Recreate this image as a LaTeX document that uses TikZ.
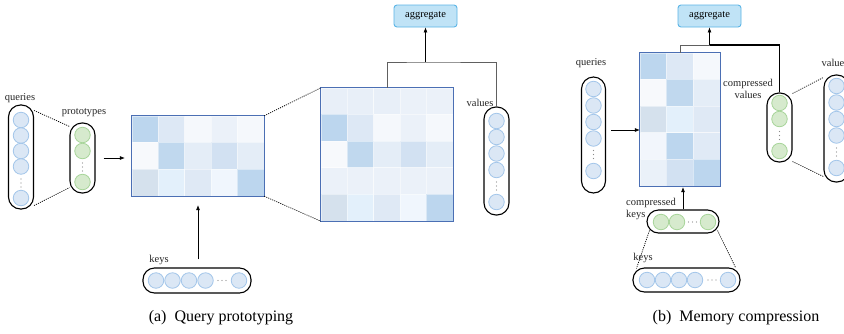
\documentclass[tikz,border=0pt]{standalone}
\usepackage{fontspec}
\setmainfont{Liberation Serif}
\usetikzlibrary{arrows.meta,calc}
\definecolor{cfill}{HTML}{DBE7F5}
\definecolor{cdraw}{HTML}{A3C6EA}
\definecolor{gfill}{HTML}{D6EACD}
\definecolor{gdraw}{HTML}{A8D59A}
\definecolor{aggfill}{HTML}{C0E3F6}
\definecolor{aggdraw}{HTML}{5BB5E6}
\definecolor{mborder}{HTML}{4B6FB4}
\definecolor{mright}{HTML}{8FA8D0}
\definecolor{lgray}{HTML}{606060}
\definecolor{dotc}{HTML}{8A8A8A}
\definecolor{cA}{HTML}{BCD6EE}
\definecolor{cB}{HTML}{DDE8F5}
\definecolor{cC}{HTML}{F5F8FC}
\definecolor{cD}{HTML}{EBF1F9}
\definecolor{cE}{HTML}{F7F9FC}
\definecolor{cF}{HTML}{C0D8EE}
\definecolor{cG}{HTML}{E4EDF7}
\definecolor{cH}{HTML}{D2E1F2}
\definecolor{cI}{HTML}{D5E1ED}
\definecolor{cJ}{HTML}{E3F0FB}
\definecolor{cK}{HTML}{DFE9F5}
\definecolor{cL}{HTML}{F0F6FD}
\definecolor{cM}{HTML}{E8EFF8}
\definecolor{cN}{HTML}{F2F6FC}
\definecolor{cO}{HTML}{E0EAF6}
\definecolor{cP}{HTML}{EAF1F9}
\newcommand\mycells[4]{%
  \foreach \rw [count=\r from 0] in {#4} {
    \foreach \cc [count=\k from 0] in \rw {
      \path[fill=\cc, draw=white, draw opacity=0.45, line width=0.4]
        ($(#1.north west)+(\k*#2,\r*#3)$) rectangle ++(#2,#3);
    }
  }
}
\tikzset{
  pill/.style={draw=black, line width=1.1pt, rounded corners=12pt, inner sep=0pt, minimum width=25pt},
  hpill/.style={draw=black, line width=1.1pt, rounded corners=11.5pt, inner sep=0pt, minimum height=24pt},
  bc/.style={circle, draw=cdraw, fill=cfill, line width=0.8pt, minimum size=15.5pt, inner sep=0pt},
  gc/.style={circle, draw=gdraw, fill=gfill, line width=0.8pt, minimum size=15.5pt, inner sep=0pt},
  lbl/.style={font=\fontsize{10.5}{12}\selectfont, inner sep=0pt, text=black!85},
  captext/.style={font=\fontsize{16}{18}\selectfont, inner sep=0pt},
  agg/.style={draw=aggdraw, fill=aggfill, line width=0.9pt, rounded corners=3pt, minimum width=63pt, minimum height=22pt, inner sep=0pt, font=\fontsize{10.5}{12}\selectfont},
  mat/.style={draw=none, inner sep=0pt},
  mframe/.style={draw=mborder, line width=0.9pt},
  redge/.style={draw=mright, line width=1.4pt},
  dotl/.style={draw=black, line width=0.7pt, dash pattern=on 1.1pt off 1.1pt},
  arr/.style={draw=black, line width=0.6pt, -{Latex[length=5pt,width=4pt]}},
  gline/.style={draw=lgray, line width=0.8pt},
  bline/.style={draw=black, line width=1.2pt},
}
\begin{document}
\begin{tikzpicture}[x=1pt,y=-1pt]
\useasboundingbox (0,0) rectangle (844,333);
\fill[white] (0,0) rectangle (844,333);

% ================= (a) =================
% queries
\node[pill, minimum height=104pt] (q) at (21,157) {};
\foreach \y [count=\i] in {120,135.5,151,166.5,198} \node[bc] (q\i) at (21,\y) {};
\foreach \d in {-4,0,4} \fill[dotc] (21,183+\d) circle (0.6);
\node[lbl] (ql) at (20,98) {queries};
% prototypes
\node[pill, minimum height=70pt] (p) at (82.5,158) {};
\foreach \y [count=\i] in {135,151,182} \node[gc] (p\i) at (82.5,\y) {};
\foreach \d in {-4,0,4} \fill[dotc] (82.5,167+\d) circle (0.6);
\node[lbl] (pl) at (84,113) {prototypes};
\draw[dotl] ([yshift=-6pt]q.north east) -- ([yshift=-4pt]p.north west);
\draw[dotl] ([yshift=4pt]q.south east) -- ([yshift=6pt]p.south west);

% matrix 1
\node[mat, minimum width=132pt, minimum height=80pt] (m1) at (198,156) {};
\mycells{m1}{26.4}{26.667}{{cA,cB,cC,cD,cC},{cE,cF,cG,cH,cG},{cI,cJ,cK,cL,cA}}
\draw[redge] ([xshift=0.3pt]m1.north east) -- ([xshift=0.3pt]m1.south east);
\draw[mframe] (m1.north west) rectangle (m1.south east);
\draw[arr] ([xshift=8pt]p.east) -- ([xshift=-7pt]p.east -| m1.west);

% keys
\node[hpill, minimum width=108pt, minimum height=25pt] (k) at (197,280.5) {};
\foreach \x [count=\i] in {156,172.5,189,205.5,239} \node[bc] (k\i) at (\x,280.5) {};
\foreach \d in {-4,0,4} \fill[dotc] (222+\d,280.5) circle (0.6);
\node[lbl] (kl) at (159,260) {keys};
\draw[arr] ([yshift=8pt]m1.south |- k.north) -- ([yshift=-9pt]m1.south);

% matrix 2
\node[mat, minimum width=132pt, minimum height=133pt] (m2) at (387,154.5) {};
\mycells{m2}{26.4}{26.6}{{cM,cM,cM,cD,cD},{cA,cB,cC,cD,cC},{cE,cF,cG,cH,cG},{cD,cD,cD,cD,cD},{cI,cJ,cK,cL,cA}}
\draw[redge] ([xshift=0.3pt]m2.north east) -- ([xshift=0.3pt]m2.south east);
\draw[mframe] (m2.north west) rectangle (m2.south east);
\draw[dotl] (m1.north east) -- (m2.north west);
\draw[dotl] (m1.south east) -- (m2.south west);

% values
\node[pill, minimum height=108pt] (v) at (496.5,161) {};
\foreach \y [count=\i] in {121,137,153.5,170,202} \node[bc] (v\i) at (496.5,\y) {};
\foreach \d in {-4,0,4} \fill[dotc] (496.5,186+\d) circle (0.6);
\node[lbl] (vl) at (480,103) {values};

% aggregate
\node[agg] (ag1) at (425.5,16) {aggregate};
\coordinate (j1) at (425.5,62);
\draw[gline] (m2.north) |- (j1) -| (v.north);
\draw[arr] (j1) -- (ag1.south);

% ================= (b) =================
\node[agg] (ag2) at (709.5,16) {aggregate};
\node[mat, minimum width=80pt, minimum height=133pt] (mb) at (680,119.5) {};
\mycells{mb}{26.667}{26.6}{{cA,cB,cC},{cE,cF,cG},{cI,cJ,cK},{cN,cA,cO},{cP,cH,cA}}
\draw[redge] ([xshift=0.3pt]mb.north east) -- ([xshift=0.3pt]mb.south east);
\draw[mframe] (mb.north west) rectangle (mb.south east);

% queries (b)
\node[pill, minimum width=24pt, minimum height=116pt] (qb) at (593.5,135) {};
\foreach \y [count=\i] in {89,105.5,122,138.5,171} \node[bc] (qb\i) at (593.5,\y) {};
\foreach \d in {-4,0,4} \fill[dotc] (593.5,154.5+\d) circle (0.6);
\node[lbl] (qbl) at (591,63) {queries};
\draw[arr] ([xshift=5pt,yshift=5pt]qb.east) -- ([yshift=5pt]qb.east -| mb.west);

% compressed values
\node[pill, minimum height=69pt] (cv) at (779.5,127.5) {};
\foreach \y [count=\i] in {103,119,151} \node[gc] (cv\i) at (779.5,\y) {};
\foreach \d in {-4,0,4} \fill[dotc] (779.5,135.5+\d) circle (0.6);
\node[lbl, align=center] (cvl) at (748,89) {compressed\\values};

% values (b)
\node[pill, minimum height=107pt] (vb) at (836.5,128.5) {};
\foreach \y [count=\i] in {86,102.5,119,135.5,168} \node[bc] (vb\i) at (836.5,\y) {};
\foreach \d in {-4,0,4} \fill[dotc] (836.5,152+\d) circle (0.6);
\node[lbl] (vbl) at (835,63) {values};
\draw[dotl] ([yshift=-1pt]cv.north east) -- ([yshift=-3pt]vb.north west);
\draw[dotl] ([yshift=1pt]cv.south east) -- ([yshift=6pt]vb.south west);

\coordinate (j2) at (709.5,45);
\draw[gline] (mb.north) |- (j2);
\draw[bline] (j2) -| (cv.north);
\draw[arr] (j2) -- (ag2.south);

% compressed keys
\node[hpill, minimum width=72pt, minimum height=23pt] (ck) at (683,221.5) {};
\foreach \x [count=\i] in {661,677,708} \node[gc] (ck\i) at (\x,222) {};
\foreach \d in {-4,0,4} \fill[dotc] (692.5+\d,222) circle (0.6);
\node[lbl, align=left, anchor=west] (ckl) at (626,209) {compressed\\keys};
\draw[arr, shorten >=1pt] (ck.north) -- (ck.north |- mb.south);

% keys (b)
\node[hpill, minimum width=107pt, minimum height=24pt] (kb) at (686.5,280) {};
\foreach \x [count=\i] in {647,663,679,695,728} \node[bc] (kb\i) at (\x,280) {};
\foreach \d in {-4,0,4} \fill[dotc] (712+\d,280) circle (0.6);
\node[lbl] (kbl) at (643,258) {keys};
\draw[dotl] ([xshift=3pt,yshift=3pt]ck.south west) -- ([xshift=4pt,yshift=-1pt]kb.north west);
\draw[dotl] ([xshift=-2pt,yshift=3pt]ck.south east) -- ([xshift=-5pt]kb.north east);

% captions
\node[captext] (capa) at (221,318) {(a)\enspace Query prototyping};
\node[captext] (capb) at (736,318) {(b)\enspace Memory compression};
\end{tikzpicture}
\end{document}
